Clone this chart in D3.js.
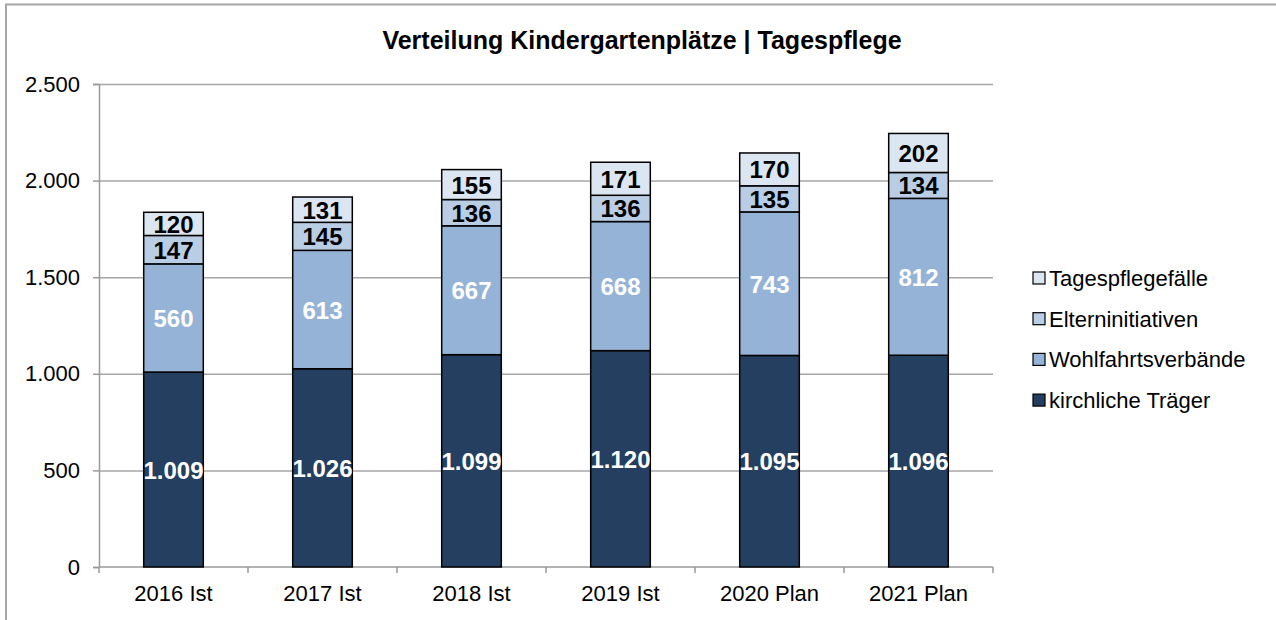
<!DOCTYPE html>
<html>
<head>
<meta charset="utf-8">
<script src="https://cdn.jsdelivr.net/npm/d3@7"></script>
<style>
  body { margin: 0; background: #fff; }
  text { font-family: "Liberation Sans", Arial, sans-serif; }
</style>
</head>
<body>
<div id="chart"></div>
<script>
var categories = ["2016 Ist", "2017 Ist", "2018 Ist", "2019 Ist", "2020 Plan", "2021 Plan"];
var kirchliche = [1009, 1026, 1099, 1120, 1095, 1096];
var wohlfahrt = [560, 613, 667, 668, 743, 812];
var eltern = [147, 145, 136, 136, 135, 134];
var tagespflege = [120, 131, 155, 171, 170, 202];
var seriesNames = ["kirchliche Träger", "Wohlfahrtsverbände", "Elterninitiativen", "Tagespflegefälle"];
var yTicks = [0, 500, 1000, 1500, 2000, 2500];

var colors = ["#243f60", "#95b3d7", "#b9cde5", "#dce6f2"];
var labelColors = ["#fff", "#fff", "#000", "#000"];

var width = 1276, height = 620;
var margin = {left: 99, right: 283, top: 84, bottom: 53};

var svg = d3.select("#chart").append("svg")
  .attr("width", width)
  .attr("height", height);

// outer frame (only top and left visible)
svg.append("path")
  .attr("d", "M6,620 L6,4.5 L1276,4.5")
  .attr("fill", "none")
  .attr("stroke", "#a6a6a6")
  .attr("stroke-width", 2);

svg.append("text")
  .attr("x", 642)
  .attr("y", 49)
  .attr("text-anchor", "middle")
  .style("font-weight", "bold")
  .style("font-size", "25px")
  .text("Verteilung Kindergartenplätze | Tagespflege");

var table = categories.map(function(c, i) {
  return {cat: c, k: kirchliche[i], w: wohlfahrt[i], e: eltern[i], t: tagespflege[i]};
});
var keys = ["k", "w", "e", "t"];
var stack = d3.stack().keys(keys)(table);

var x = d3.scaleBand()
  .domain(categories)
  .range([margin.left, width - margin.right])
  .paddingInner(0.6)
  .paddingOuter(0.3);

var y = d3.scaleLinear()
  .domain([0, 2500])
  .range([height - margin.bottom, margin.top]);

// gridlines
svg.append("g").selectAll("line")
  .data(yTicks.slice(1))
  .enter().append("line")
  .attr("x1", margin.left)
  .attr("x2", width - margin.right)
  .attr("y1", function(d) { return y(d) + 0.5; })
  .attr("y2", function(d) { return y(d) + 0.5; })
  .attr("stroke", "#a6a6a6")
  .attr("stroke-width", 1.5);

// y axis
var yAxis = svg.append("g")
  .attr("transform", "translate(" + margin.left + ",0)")
  .call(d3.axisLeft(y).tickValues(yTicks).tickSize(6).tickPadding(13)
    .tickFormat(function(d) { return d3.format(",")(d).replace(/,/g, "."); }));
yAxis.selectAll("path, line").attr("stroke", "#999").attr("stroke-width", 1.5);
yAxis.selectAll("text").style("font-size", "22px").attr("fill", "#000")
  .style("font-family", "Liberation Sans, Arial, sans-serif");

// x axis with ticks at band boundaries
var xg = svg.append("g")
  .attr("transform", "translate(0," + y(0) + ")");
xg.append("line")
  .attr("x1", margin.left).attr("x2", width - margin.right)
  .attr("stroke", "#999").attr("stroke-width", 1.5);
var bounds = d3.range(categories.length + 1).map(function(i) {
  return margin.left + i * (width - margin.left - margin.right) / categories.length;
});
xg.selectAll(".tk").data(bounds).enter().append("line")
  .attr("x1", function(d) { return d; }).attr("x2", function(d) { return d; })
  .attr("y1", 0).attr("y2", 6)
  .attr("stroke", "#999").attr("stroke-width", 1.5);
xg.selectAll(".lbl").data(categories).enter().append("text")
  .attr("x", function(d) { return x(d) + x.bandwidth() / 2; })
  .attr("y", 34)
  .attr("text-anchor", "middle")
  .style("font-size", "22px")
  .text(function(d) { return d; });

// bars
var layers = svg.selectAll(".layer")
  .data(stack)
  .enter().append("g")
  .attr("class", "layer")
  .attr("fill", function(d, i) { return colors[i]; });

layers.selectAll("rect")
  .data(function(d) { return d; })
  .enter().append("rect")
  .attr("x", function(d) { return x(d.data.cat); })
  .attr("width", x.bandwidth())
  .attr("y", function(d) { return y(d[1]); })
  .attr("height", function(d) { return y(d[0]) - y(d[1]); })
  .attr("stroke", "#000")
  .attr("stroke-width", 1.5);

// value labels
stack.forEach(function(layer, li) {
  svg.append("g").selectAll("text")
    .data(layer)
    .enter().append("text")
    .attr("x", function(d) { return x(d.data.cat) + x.bandwidth() / 2; })
    .attr("y", function(d) { return (y(d[0]) + y(d[1])) / 2 + 9; })
    .attr("text-anchor", "middle")
    .attr("fill", labelColors[li])
    .style("font-weight", "bold")
    .style("font-size", "24px")
    .text(function(d) { return d3.format(",")(d[1] - d[0]).replace(/,/g, "."); });
});

// legend (reversed order)
var legend = svg.append("g");
var legItems = seriesNames.map(function(n, i) { return {name: n, color: colors[i]}; }).reverse();
var lg = legend.selectAll("g").data(legItems).enter().append("g")
  .attr("transform", function(d, i) { return "translate(1033," + (278 + i * 40.7) + ")"; });
lg.append("rect")
  .attr("x", 0).attr("y", -6).attr("width", 12).attr("height", 12)
  .attr("fill", function(d) { return d.color; })
  .attr("stroke", "#000").attr("stroke-width", 1.2);
lg.append("text")
  .attr("x", 16).attr("y", 8)
  .style("font-size", "22px")
  .text(function(d) { return d.name; });
</script>
</body>
</html>
